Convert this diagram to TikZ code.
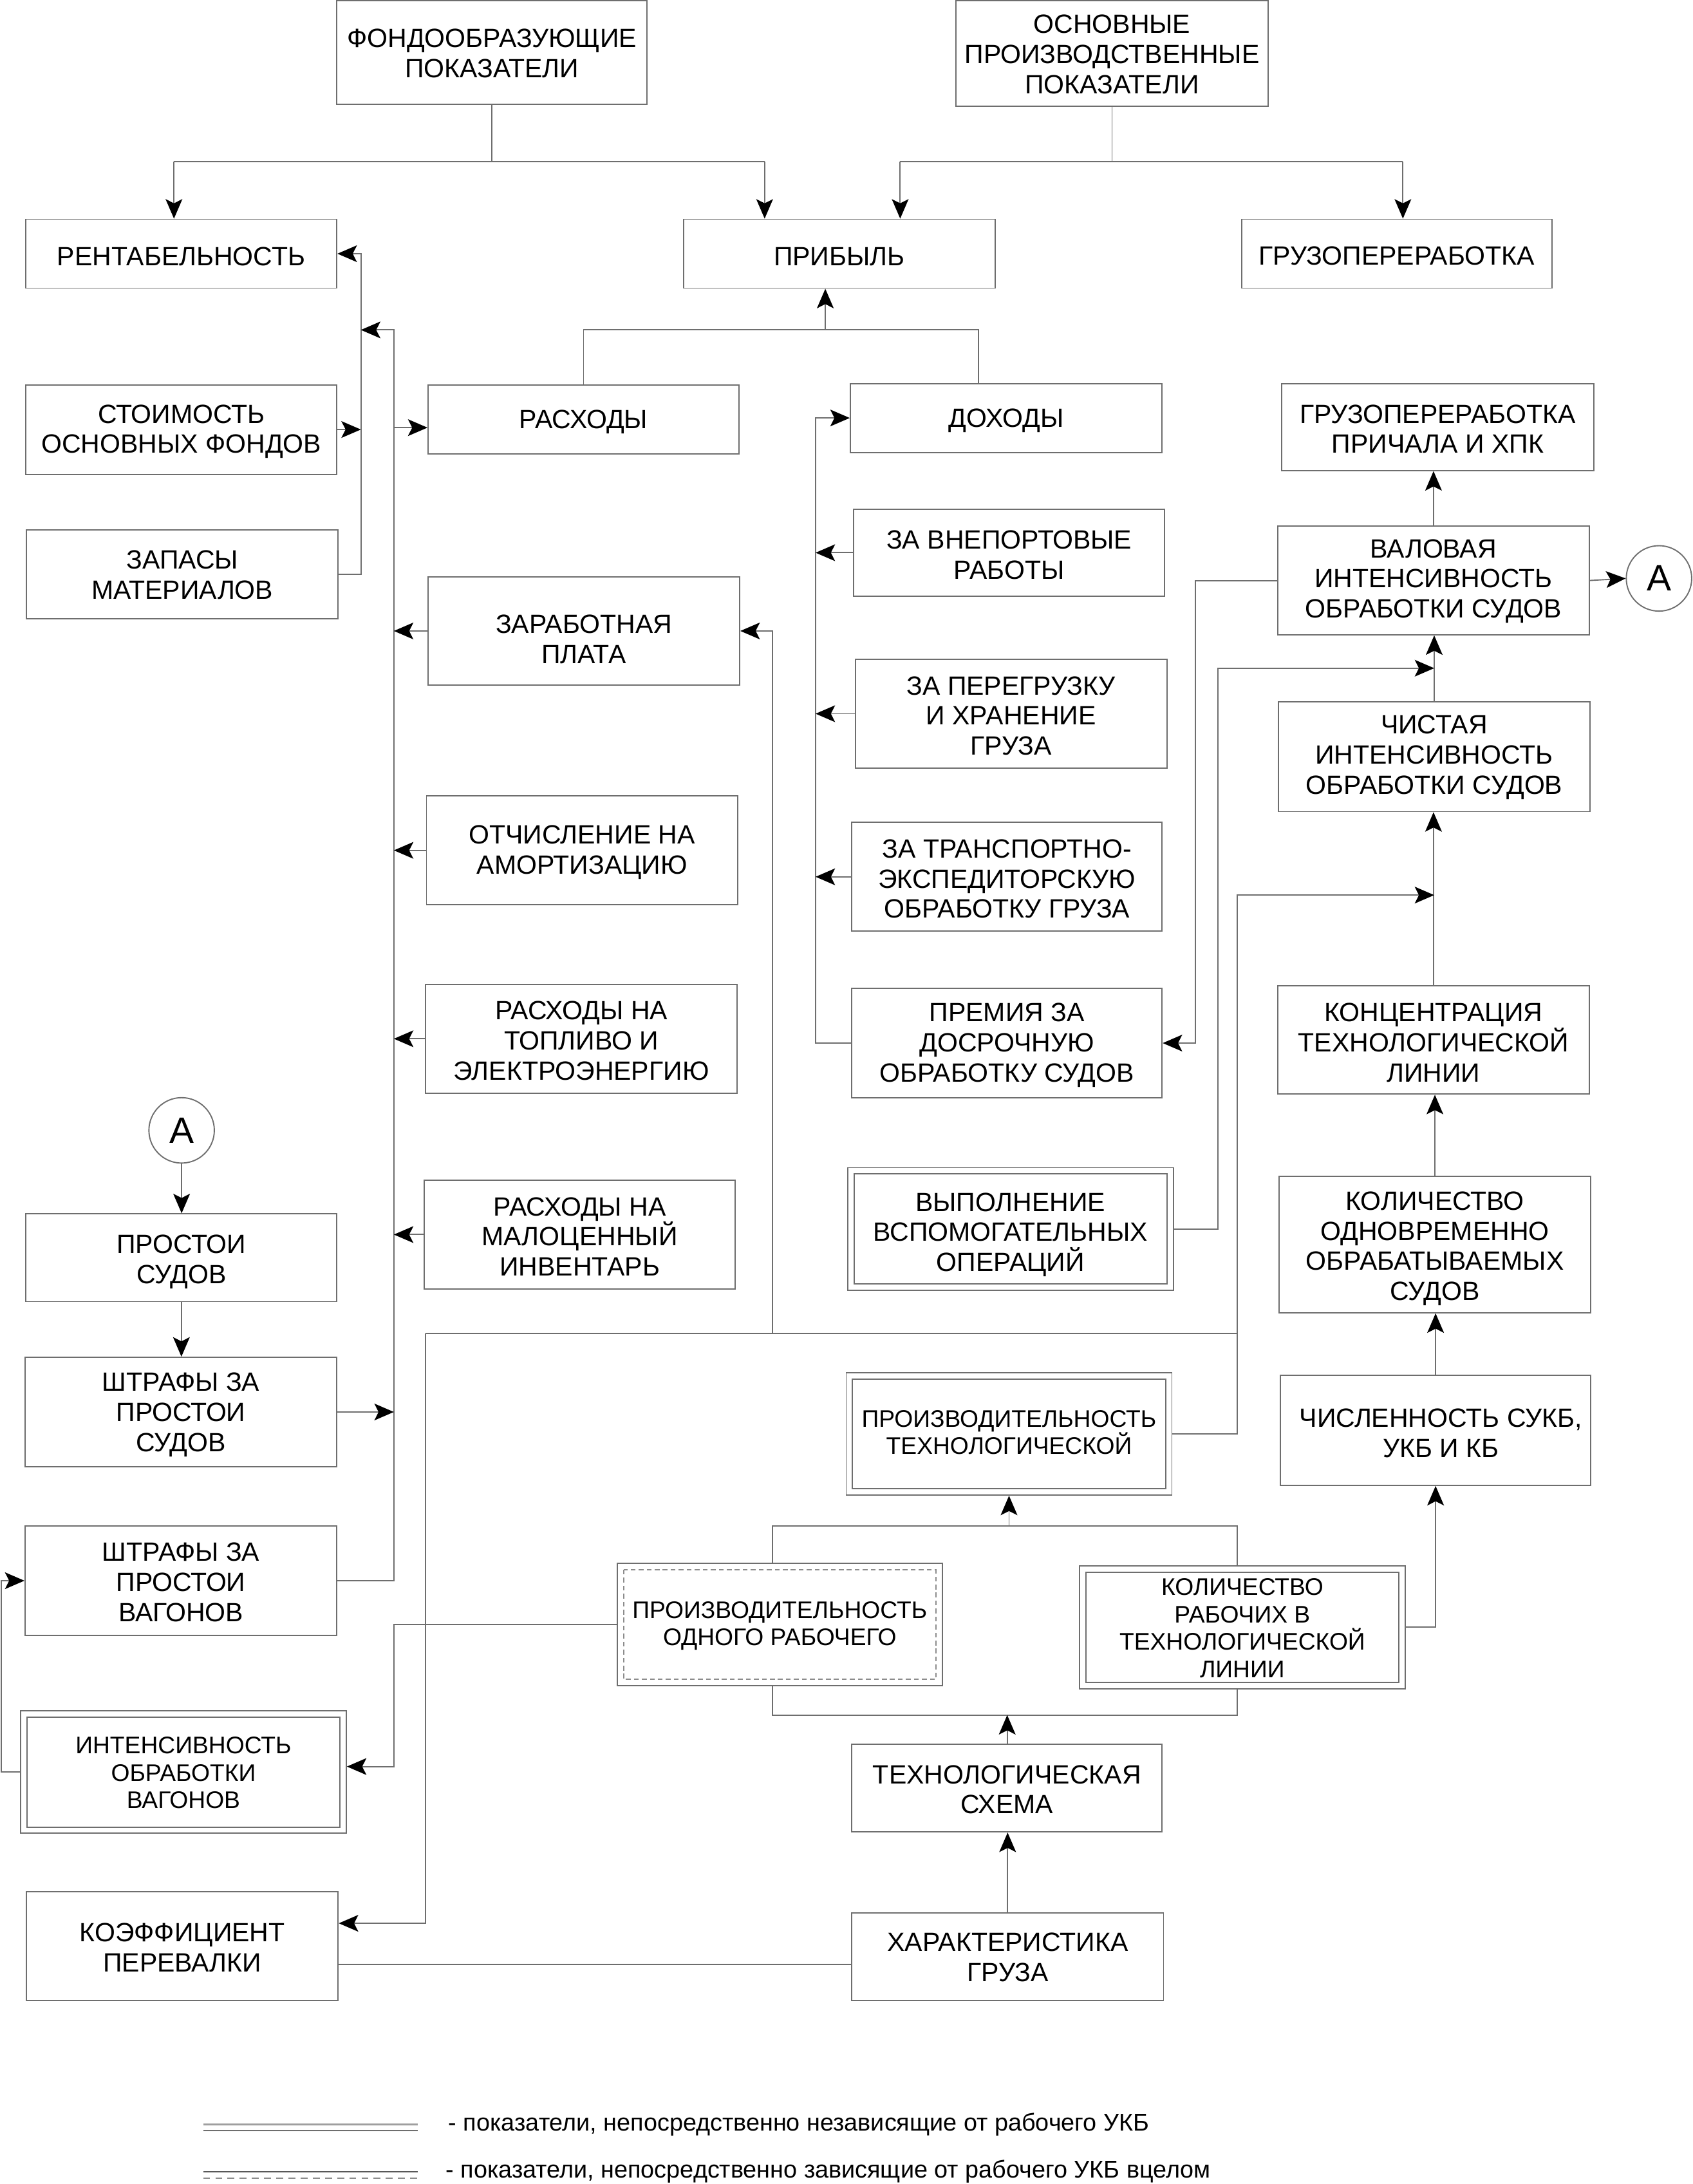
\documentclass[tikz,border=0pt]{standalone}
\usepackage{fontspec}
\setmainfont{Liberation Sans}
\usetikzlibrary{arrows.meta,calc}
\definecolor{lc}{HTML}{6E6E6E}
\definecolor{dc}{HTML}{8C8C8C}
\newcommand\fm{\fontsize{10.8}{12.3}\selectfont}
\newcommand\fsm{\fontsize{9.8}{11.2}\selectfont}
\newcommand\fleg{\fontsize{9.95}{11}\selectfont}
\newcommand\mk[8][1.5]{\node[#2,minimum width={(#6-#4)*0.02cm},minimum height={(#7-#5)*0.02cm}] (#3) at ({(#4+#6)/2},{(#5+#7)/2}) {};
  \node[#2,draw=none,minimum width=0pt,minimum height=0pt,yshift={-#1*0.02cm}] (#3t) at (#3) {#8};}
\newcommand\inbox[2][]{\draw[lc,line width=0.5pt,#1] ([shift={(5,5)}]#2.north west) rectangle ([shift={(-5,-5)}]#2.south east);}
\begin{document}
\begin{tikzpicture}[x=0.02cm,y=-0.02cm,
  box/.style={draw=lc,line width=0.5pt,inner sep=0pt,align=center,font=\fm,text=black},
  sbox/.style={box,font=\fsm},
  ln/.style={draw=lc,line width=0.5pt},
  arr/.style={-{Stealth[length=0.28cm,width=0.24cm,inset=0.06cm,color=black]}},
  circ/.style={circle,draw=lc,line width=0.5pt,inner sep=0pt,minimum size={47*0.02cm},font=\fontsize{15}{15}\selectfont}]
\useasboundingbox (0,0) rectangle (1216,1568.9);
% boxes
\mk[0.5]{box}{fond}{242}{0.5}{465}{75}{ФОНДООБРАЗУЮЩИЕ\\ПОКАЗАТЕЛИ}
\mk[0.5]{box}{osn}{687}{0.5}{911}{76.4}{ОСНОВНЫЕ\\ПРОИЗВОДСТВЕННЫЕ\\ПОКАЗАТЕЛИ}
\mk[2]{box}{rent}{18.3}{157.5}{242}{207}{РЕНТАБЕЛЬНОСТЬ}
\mk[2]{box}{prib}{491}{157.5}{715}{207}{ПРИБЫЛЬ}
\mk[1.5]{box}{gruz}{892}{157.5}{1115}{207}{ГРУЗОПЕРЕРАБОТКА}
\mk{box}{stoim}{18.7}{276.4}{242}{340.7}{СТОИМОСТЬ\\ОСНОВНЫХ ФОНДОВ}
\mk[0.5]{box}{zapas}{19}{380.5}{243}{444.5}{ЗАПАСЫ\\МАТЕРИАЛОВ}
\mk[2]{box}{rasx}{307.6}{276.4}{531}{326}{РАСХОДЫ}
\mk[2]{box}{dox}{611}{275.5}{835}{325}{ДОХОДЫ}
\mk[6]{box}{zarab}{307.6}{414.5}{531.5}{492}{ЗАРАБОТНАЯ\\ПЛАТА}
\mk{box}{otch}{306.4}{571.7}{530}{650}{ОТЧИСЛЕНИЕ НА\\АМОРТИЗАЦИЮ}
\mk{box}{topl}{305.9}{707}{529.5}{785.4}{РАСХОДЫ НА\\ТОПЛИВО И\\ЭЛЕКТРОЭНЕРГИЮ}
\mk{box}{malo}{304.8}{847.7}{528.3}{926}{РАСХОДЫ НА\\МАЛОЦЕННЫЙ\\ИНВЕНТАРЬ}
\mk{box}{vnep}{613.4}{365.8}{836.8}{428.3}{ЗА ВНЕПОРТОВЫЕ\\РАБОТЫ}
\mk{box}{pereg}{614.5}{473.6}{838.4}{551.8}{ЗА ПЕРЕГРУЗКУ\\И ХРАНЕНИЕ\\ГРУЗА}
\mk{box}{trans}{612}{590.7}{835}{669}{ЗА ТРАНСПОРТНО-\\ЭКСПЕДИТОРСКУЮ\\ОБРАБОТКУ ГРУЗА}
\mk{box}{premia}{612}{710}{835}{788.6}{ПРЕМИЯ ЗА\\ДОСРОЧНУЮ\\ОБРАБОТКУ СУДОВ}
\mk[4]{box}{vyp}{609}{838.8}{843}{927}{ВЫПОЛНЕНИЕ\\ВСПОМОГАТЕЛЬНЫХ\\ОПЕРАЦИЙ}
\inbox{vyp}
\mk{box}{grpr}{921}{275.5}{1145}{338}{ГРУЗОПЕРЕРАБОТКА\\ПРИЧАЛА И ХПК}
\mk[0.5]{box}{valov}{918}{378}{1142}{456}{ВАЛОВАЯ\\ИНТЕНСИВНОСТЬ\\ОБРАБОТКИ СУДОВ}
\mk[0.5]{box}{chist}{918.5}{504}{1142.5}{583}{ЧИСТАЯ\\ИНТЕНСИВНОСТЬ\\ОБРАБОТКИ СУДОВ}
\mk[2]{box}{konts}{918}{708}{1142}{786}{КОНЦЕНТРАЦИЯ\\ТЕХНОЛОГИЧЕСКОЙ\\ЛИНИИ}
\mk[3]{box}{kolodn}{919}{845}{1143}{943}{КОЛИЧЕСТВО\\ОДНОВРЕМЕННО\\ОБРАБАТЫВАЕМЫХ\\СУДОВ}
\mk[2]{box}{chisl}{920}{988}{1143}{1067}{\hspace*{0.15cm}ЧИСЛЕННОСТЬ СУКБ,\\\hspace*{0.15cm}УКБ И КБ}
\mk[-1]{sbox}{pt}{608}{986}{842}{1074}{ПРОИЗВОДИТЕЛЬНОСТЬ\\ТЕХНОЛОГИЧЕСКОЙ}
\inbox{pt}
\mk[1]{sbox}{proiz1}{443.5}{1123}{677}{1211}{ПРОИЗВОДИТЕЛЬНОСТЬ\\ОДНОГО РАБОЧЕГО}
\inbox[draw=dc,dash pattern=on 0.07cm off 0.045cm]{proiz1}
\mk[0.5]{sbox}{kolrab}{775.6}{1125}{1009.6}{1213}{КОЛИЧЕСТВО\\РАБОЧИХ В\\ТЕХНОЛОГИЧЕСКОЙ\\ЛИНИИ}
\inbox{kolrab}
\mk[1]{box}{tsch}{612}{1253}{835}{1316}{ТЕХНОЛОГИЧЕСКАЯ\\СХЕМА}
\mk[0.5]{box}{xar}{612}{1374}{836}{1437}{ХАРАКТЕРИСТИКА\\ГРУЗА}
\mk[1]{box}{koef}{19}{1359}{243}{1437}{КОЭФФИЦИЕНТ\\ПЕРЕВАЛКИ}
\mk[3]{box}{prost}{18.7}{872}{242}{935}{ПРОСТОИ\\СУДОВ}
\mk[2]{box}{shtr1}{18}{975}{242}{1053.6}{ШТРАФЫ ЗА\\ПРОСТОИ\\СУДОВ}
\mk[1]{box}{shtr2}{18}{1096}{242}{1175}{ШТРАФЫ ЗА\\ПРОСТОИ\\ВАГОНОВ}
\mk[0.5]{sbox}{intens}{14.8}{1229}{248.8}{1317}{ИНТЕНСИВНОСТЬ\\ОБРАБОТКИ\\ВАГОНОВ}
\inbox{intens}
\node[circ] (Ar) at (1192,415.5) {А};
\node[circ] (Al) at (130.5,812) {А};
% top connectors
\coordinate (t1) at (125,116); \coordinate (t2) at (549.4,116);
\coordinate (t3) at (646.8,116); \coordinate (t4) at (1008,116);
\draw[ln] (fond.south) -- (fond.south |- t1);
\draw[ln] (t1) -- (t2);
\draw[ln,arr] (t1) -- (t1 |- rent.north);
\draw[ln,arr] (t2) -- (t2 |- prib.north);
\draw[ln] (osn.south) -- (osn.south |- t3);
\draw[ln] (t3) -- (t4);
\draw[ln,arr] (t3) -- (t3 |- prib.north);
\draw[ln,arr] (t4) -- (t4 |- gruz.north);
% profit
\coordinate (p1) at (593,237); \coordinate (p2) at (703,237);
\draw[ln] (rasx.north) |- (p2) -- (p2 |- dox.north);
\draw[ln,arr] (p1) -- (p1 |- prib.south);
% left bus A
\coordinate (ba) at (259.3,0);
\draw[ln,arr] (zapas.east) -| (ba |- rent.east) -- (rent.east);
\draw[ln,arr] (stoim.east) -- (stoim.east -| ba);
% bus B
\coordinate (bb) at (283,237);
\draw[ln,arr] (shtr2.east) -| (bb) -- (bb -| ba);
\coordinate (rw) at ($(rasx.west)+(0,6)$);
\draw[ln,arr] (rw -| bb) -- (rw);
\foreach \n in {zarab,otch,topl,malo} \draw[ln,arr] (\n.west) -- (\n.west -| bb);
\draw[ln,arr] (shtr1.east) -- (shtr1.east -| bb);
% income bus
\coordinate (bd) at (586,0);
\draw[ln,arr] (premia.west) -| (bd |- dox.west) -- (dox.west);
\foreach \n in {vnep,pereg,trans} \draw[ln,arr] (\n.west) -- (\n.west -| bd);
% right column
\draw[ln,arr] (valov.north) -- (valov.north |- grpr.south);
\draw[ln,arr] (valov.east) -- (Ar.west);
\draw[ln,arr] (chist.north) -- (chist.north |- valov.south);
\draw[ln,arr] (konts.north) -- (konts.north |- chist.south);
\draw[ln,arr] (kolodn.north) -- (kolodn.north |- konts.south);
\draw[ln,arr] (chisl.north) -- (chisl.north |- kolodn.south);
\draw[ln,arr] (kolrab.east) -| (chisl.south);
\coordinate (bv) at (859,0);
\draw[ln,arr] (valov.west) -| (bv |- premia.east) -- (premia.east);
\coordinate (by) at (875,480);
\draw[ln,arr] (vyp.east) -| (by) -- (by -| chist.north);
\coordinate (bp) at (889,643);
\draw[ln,arr] (pt.east) -| (bp) -- (bp -| chist.north);
\coordinate (h1) at (555,958); \coordinate (h2) at (305.6,958);
\draw[ln] (h1 -| bp) -- (h2);
\draw[ln,arr] (h1) |- (zarab.east);
\coordinate (ke) at ($(koef.east)+(0,-16.4)$);
\draw[ln,arr] (h2) |- (ke);
\coordinate (kx) at (0,1411);
\draw[ln] (koef.east |- kx) -- (xar.west |- kx);
% bottom middle
\coordinate (u1) at (555,1096); \coordinate (u2) at (889,1096); \coordinate (ua) at (725,1096);
\draw[ln] (u1 |- proiz1.north) -- (u1) -- (u2) -- (u2 |- kolrab.north);
\draw[ln,arr] (ua) -- (ua |- pt.south);
\coordinate (d1) at (555,1232); \coordinate (d2) at (889,1232); \coordinate (da) at (723.7,1232);
\draw[ln] (d1 |- proiz1.south) -- (d1) -- (d2) -- (d2 |- kolrab.south);
\draw[ln,arr] (da |- tsch.north) -- (da);
\draw[ln,arr] (xar.north) -- (xar.north |- tsch.south);
\coordinate (bq) at (283,1269);
\draw[ln,arr] (proiz1.west) -| (bq) -- (bq -| intens.east);
\coordinate (bl) at (1,0);
\draw[ln,arr] (intens.west) -| (bl |- shtr2.west) -- (shtr2.west);
\draw[ln,arr] (Al.south) -- (Al.south |- prost.north);
\draw[ln,arr] (prost.south) -- (prost.south |- shtr1.north);
% legend
\draw[draw=gray!75,line width=0.75pt] (146,1526) -- (300,1526);
\draw[ln] (146,1530.5) -- (300,1530.5);
\draw[ln,draw=lc!80!black] (146,1560) -- (300,1560);
\draw[draw=dc,line width=0.6pt,dash pattern=on 0.1cm off 0.075cm] (146,1564.7) -- (300,1564.7);
\node[anchor=base west,font=\fleg,inner sep=0pt] (leg1) at (322,1530.5) {- показатели, непосредственно независящие от рабочего УКБ};
\node[anchor=base west,font=\fleg,inner sep=0pt] (leg2) at (320,1564.7) {- показатели, непосредственно зависящие от рабочего УКБ вцелом};
\end{tikzpicture}
\end{document}
